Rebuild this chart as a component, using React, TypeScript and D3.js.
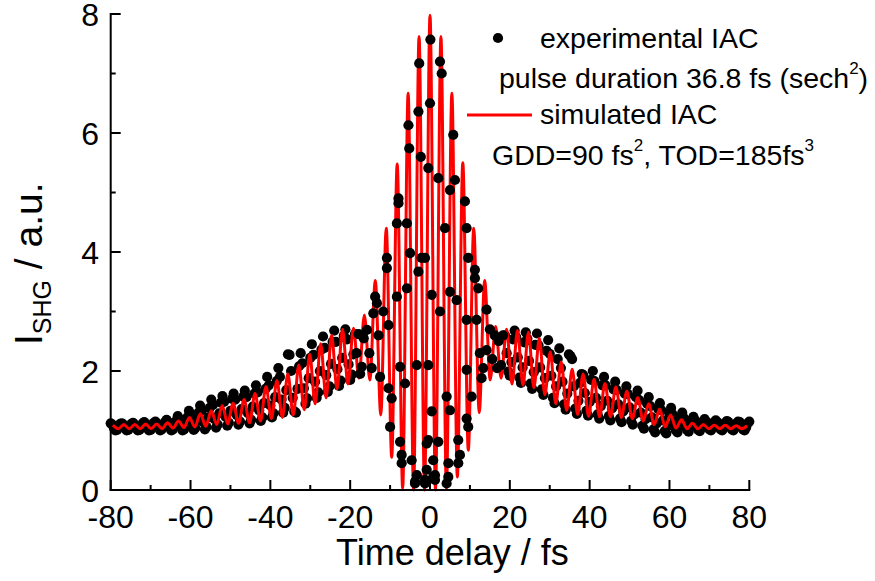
import React from 'react';
import * as d3 from 'd3';

const X_TICKS = [-80, -60, -40, -20, 0, 20, 40, 60, 80];
const X_MINOR = [-70, -50, -30, -10, 10, 30, 50, 70];
const Y_TICKS = [0, 2, 4, 6, 8];
const Y_MINOR = [1, 3, 5, 7];

// simulated IAC: fringe maxima and minima (fs grid of half fringe periods)
const FRINGE_PERIOD = 2.74;
const FIRST_PEAK_INDEX = -29;
const simPeakValues = [
  1.09, 1.10, 1.10, 1.11, 1.11, 1.13, 1.16, 1.22, 1.28, 1.33,
  1.42, 1.46, 1.52, 1.62, 1.74, 1.84, 1.95, 2.10, 2.28, 2.46,
  2.60, 2.70, 2.72, 2.94, 3.52, 4.40, 5.48, 6.67, 7.62, 7.98,
  7.62, 6.67, 5.50, 4.40, 3.52, 2.75, 2.70, 2.68, 2.65, 2.55,
  2.32, 2.15, 2.03, 1.95, 1.86, 1.79, 1.73, 1.66, 1.55, 1.45,
  1.36, 1.26, 1.18, 1.12, 1.10, 1.09, 1.09, 1.08, 1.08,
];
const simTroughValues = [
  1.03, 1.03, 1.03, 1.03, 1.03, 1.04, 1.05, 1.06, 1.07, 1.10,
  1.11, 1.12, 1.13, 1.16, 1.20, 1.22, 1.26, 1.35, 1.45, 1.55,
  1.70, 1.78, 1.88, 1.85, 1.26, 0.55, 0.03, 0.00, 0.00,
  0.00, 0.02, 0.22, 0.67, 1.30, 1.85, 1.88, 1.78, 1.76, 1.72,
  1.60, 1.45, 1.34, 1.27, 1.24, 1.23, 1.23, 1.22, 1.20, 1.16,
  1.10, 1.06, 1.04, 1.03, 1.03, 1.03, 1.03, 1.03, 1.03,
];

// experimental IAC (wings sampled every 0.4 fs, centre read point by point)
const WING_STEP = 0.4;
const LEFT_WING_START = -80;
const RIGHT_WING_START = 18.8;
const expLeftWing = [
  1.12, 1.10, 1.04, 1.00, 1.01, 1.06, 1.11,
  1.12, 1.10, 1.04, 1.00, 1.01, 1.06, 1.11,
  1.13, 1.10, 1.04, 1.00, 1.01, 1.07, 1.12,
  1.14, 1.11, 1.04, 1.00, 1.01, 1.07, 1.13,
  1.15, 1.12, 1.05, 1.00, 1.02, 1.08, 1.14,
  1.18, 1.14, 1.05, 1.00, 1.02, 1.09, 1.16,
  1.24, 1.19, 1.07, 1.00, 1.02, 1.12, 1.22,
  1.33, 1.27, 1.11, 1.01, 1.04, 1.17, 1.30,
  1.42, 1.34, 1.14, 1.02, 1.06, 1.22, 1.38,
  1.52, 1.43, 1.19, 1.05, 1.10, 1.29, 1.47,
  1.58, 1.48, 1.23, 1.08, 1.13, 1.33, 1.53,
  1.62, 1.52, 1.26, 1.10, 1.15, 1.36, 1.57,
  1.67, 1.56, 1.29, 1.12, 1.18, 1.40, 1.62,
  1.76, 1.64, 1.34, 1.16, 1.22, 1.46, 1.70,
  1.90, 1.76, 1.42, 1.22, 1.29, 1.56, 1.83,
  2.05, 1.90, 1.52, 1.30, 1.38, 1.68, 2.28,
  2.27, 2.00, 1.55, 1.32, 1.30, 1.70, 2.08,
  2.30, 2.13, 1.71, 1.45, 1.54, 1.88, 2.22,
  2.45, 2.27, 1.82, 1.55, 1.64, 2.00, 2.36,
  2.58, 2.39, 1.93, 1.65, 1.74, 2.12, 2.49,
  2.68, 2.49, 2.03, 1.75, 1.84, 2.22, 2.59,
  2.70, 2.53, 2.11, 1.85, 1.94, 2.28, 2.62,
];
const expRightWing = [
  2.60, 2.30, 1.99, 1.92, 2.15, 2.53, 2.68,
  2.57, 2.23, 1.89, 1.80, 2.06, 2.48, 2.65,
  2.54, 2.17, 1.79, 1.70, 1.98, 2.44, 2.63,
  2.43, 2.06, 1.69, 1.60, 1.88, 2.34, 2.52,
  2.29, 1.92, 1.55, 1.46, 1.74, 2.20, 2.38,
  2.05, 1.82, 1.44, 1.35, 1.62, 2.28, 2.25,
  2.20, 1.74, 1.37, 1.28, 1.50, 1.80, 1.95,
  1.93, 1.63, 1.33, 1.25, 1.48, 1.85, 2.00,
  1.83, 1.55, 1.27, 1.20, 1.41, 1.76, 1.90,
  1.76, 1.50, 1.24, 1.17, 1.37, 1.69, 1.82,
  1.68, 1.44, 1.20, 1.14, 1.32, 1.62, 1.74,
  1.61, 1.39, 1.16, 1.10, 1.27, 1.56, 1.67,
  1.51, 1.30, 1.08, 1.03, 1.19, 1.45, 1.56,
  1.41, 1.22, 1.02, 0.97, 1.12, 1.36, 1.46,
  1.34, 1.17, 0.99, 0.95, 1.08, 1.29, 1.38,
  1.27, 1.14, 1.00, 0.97, 1.07, 1.23, 1.30,
  1.21, 1.11, 1.01, 0.98, 1.06, 1.18, 1.23,
  1.17, 1.09, 1.01, 0.99, 1.05, 1.15, 1.19,
  1.15, 1.09, 1.02, 1.00, 1.05, 1.14, 1.17,
  1.14, 1.08, 1.02, 1.00, 1.05, 1.13, 1.16,
  1.14, 1.08, 1.02, 1.00, 1.05, 1.12, 1.15,
  1.14, 1.08, 1.02, 1.00, 1.05, 1.12, 1.15,
];
const expCenter: [number, number][] = [
  [-18.4, 2.3], [-17.9, 2.62], [-17.5, 1.95],
  [-17.1, 2.07], [-16.6, 2.55], [-15.8, 2.69], [-15.2, 2.3], [-14.6, 2.05],
  [-14.2, 2.97], [-13.75, 3.25], [-13.3, 3.14], [-12.9, 2.6], [-12.5, 1.9],
  [-11.7, 3.0], [-10.8, 3.9], [-10.8, 3.73], [-10.4, 2.77], [-10.4, 1.71], [-10.0, 1.06], [-9.6, 1.54],
  [-8.3, 4.48], [-8.3, 3.25], [-7.9, 4.9], [-7.9, 4.82], [-7.5, 2.07], [-7.5, 0.81], [-7.1, 0.59], [-7.1, 0.45],
  [-6.25, 1.79], [-5.8, 4.48], [-5.8, 3.39], [-5.4, 6.13], [-5.2, 5.74], [-5.0, 3.98], [-4.6, 0.5],
  [-3.75, 0.11], [-3.75, 0.14], [-3.3, 2.1], [-3.3, 0.25], [-2.9, 6.36], [-2.9, 3.67], [-2.7, 7.17], [-2.3, 5.6], [-2.1, 3.9],
  [-1.25, 0.11], [-1.25, 0.17], [-1.25, 3.9], [-0.83, 0.78], [-0.83, 0.34], [-0.43, 5.41], [-0.43, 2.1], [-0.43, 0.84],
  [0.1, 7.57], [0.0, 6.5], [0.43, 3.28], [0.43, 1.32], [0.83, 0.22], [0.8, 0.5], [1.25, 0.17], [1.25, 0.25],
  [2.08, 5.24], [2.08, 0.81], [2.5, 7.2], [2.5, 3.0], [2.93, 7.0], [3.75, 4.4], [4.17, 1.57], [4.17, 0.11], [4.58, 0.22], [4.6, 0.45],
  [5.0, 5.04], [5.0, 3.33], [5.0, 1.34], [5.83, 5.97], [6.25, 5.21], [6.67, 3.19], [7.08, 0.84], [7.08, 0.45], [7.5, 0.59],
  [8.75, 4.85], [9.17, 4.4], [9.17, 2.86], [9.17, 2.02], [9.17, 1.2], [9.58, 3.9], [9.58, 1.06], [10.42, 1.57],
  [11.25, 3.7], [11.25, 3.56], [11.67, 2.86], [12.08, 3.39], [12.5, 2.3], [12.92, 1.88], [13.33, 2.05], [14.17, 3.03], [14.17, 2.35],
  [15.0, 2.7], [15.6, 2.2], [16.2, 2.6], [16.8, 2.05], [17.2, 2.5], [17.8, 2.1], [18.3, 2.6],
];

const W = 875;
const H = 581;
const FONT = '"Liberation Sans", Arial, sans-serif';

export default function App() {
  const x = d3.scaleLinear().domain([-80, 80]).range([110.7, 749.3]);
  const y = d3.scaleLinear().domain([0, 8]).range([490, 14]);

  const simPoints: [number, number][] = [];
  simPeakValues.forEach((v, i) => {
    const t = (i + FIRST_PEAK_INDEX) * FRINGE_PERIOD;
    simPoints.push([t, v]);
    if (i < simTroughValues.length) simPoints.push([t + FRINGE_PERIOD / 2, simTroughValues[i]]);
  });
  const line = d3
    .line<[number, number]>()
    .x((d) => x(d[0]))
    .y((d) => y(d[1]))
    .curve(d3.curveMonotoneX);

  const wingDots: [number, number][] = [
    ...expLeftWing.map((v, i) => [LEFT_WING_START + i * WING_STEP, v] as [number, number]),
    ...expRightWing.map((v, i) => [RIGHT_WING_START + i * WING_STEP, v] as [number, number]),
  ];
  const R = 5.1;

  return (
    <svg
      width={W}
      height={H}
      style={{ position: 'absolute', left: 0, top: 0, background: '#fff' }}
      fontFamily={FONT}
    >
      <rect x={0} y={0} width={W} height={H} fill="#fff" />
      {/* experimental wings */}
      <g fill="#000">
        {wingDots.map((d, i) => (
          <circle key={i} cx={x(d[0])} cy={y(d[1])} r={R} />
        ))}
      </g>
      {/* simulated */}
      <path d={line(simPoints) || ''} fill="none" stroke="#f00" strokeWidth={3} strokeLinejoin="round" />
      {/* experimental centre */}
      <g fill="#000">
        {expCenter.map((d, i) => (
          <circle key={i} cx={x(d[0])} cy={y(d[1])} r={R} />
        ))}
      </g>

      {/* axes */}
      <g stroke="#000" strokeWidth={2} fill="none">
        <line x1={x(-80)} x2={x(80)} y1={y(0)} y2={y(0)} strokeLinecap="square" />
        <line x1={x(-80)} x2={x(-80)} y1={y(0)} y2={y(8)} strokeLinecap="square" />
        {X_TICKS.map((t) => (
          <line key={'xt' + t} x1={x(t)} x2={x(t)} y1={y(0)} y2={y(0) - 10} />
        ))}
        {X_MINOR.map((t) => (
          <line key={'xm' + t} x1={x(t)} x2={x(t)} y1={y(0)} y2={y(0) - 5} />
        ))}
        {Y_TICKS.map((t) => (
          <line key={'yt' + t} x1={x(-80)} x2={x(-80) + 10} y1={y(t)} y2={y(t)} />
        ))}
        {Y_MINOR.map((t) => (
          <line key={'ym' + t} x1={x(-80)} x2={x(-80) + 5} y1={y(t)} y2={y(t)} />
        ))}
      </g>
      <g fontSize={32} fill="#000">
        {X_TICKS.map((t) => (
          <text key={'xl' + t} x={x(t)} y={528} textAnchor="middle">
            {String(t)}
          </text>
        ))}
        {Y_TICKS.map((t) => (
          <text key={'yl' + t} x={99} y={y(t) + 11.5} textAnchor="end">
            {String(t)}
          </text>
        ))}
      </g>
      <text x={336} y={565} fontSize={36} fill="#000">
        Time delay / fs
      </text>
      <text transform="translate(42,345) rotate(-90)" fontSize={39} fill="#000">
        I
        <tspan fontSize={25} dy={9}>SHG</tspan>
        <tspan dy={-9}> / a.u.</tspan>
      </text>

      {/* legend */}
      <circle cx={498} cy={38} r={R} fill="#000" />
      <text x={540} y={48} fontSize={28.5} fill="#000">
        experimental IAC
      </text>
      <text x={499} y={88} fontSize={28.5} fill="#000">
        pulse duration 36.8 fs (sech
        <tspan fontSize={17} dy={-14}>2</tspan>
        <tspan dy={14}>)</tspan>
      </text>
      <line x1={467} x2={532} y1={115} y2={115} stroke="#f00" strokeWidth={3} />
      <text x={540} y={124} fontSize={28.5} fill="#000">
        simulated IAC
      </text>
      <text x={492} y={165} fontSize={28.5} fill="#000">
        GDD=90 fs
        <tspan fontSize={17} dy={-14}>2</tspan>
        <tspan dy={14}>, TOD=185fs</tspan>
        <tspan fontSize={17} dy={-14}>3</tspan>
      </text>
    </svg>
  );
}
